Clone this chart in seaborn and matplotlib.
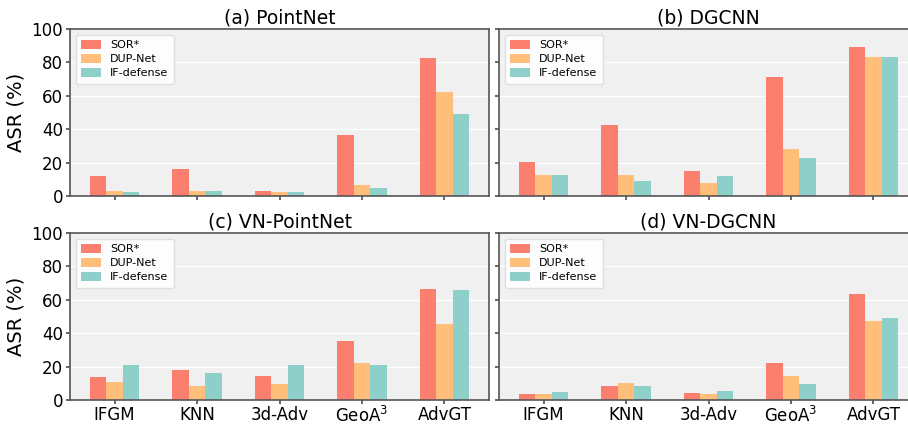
import numpy as np
import pandas as pd
import matplotlib
matplotlib.use("Agg")
import matplotlib.pyplot as plt
import seaborn as sns

attacks = ["IFGM", "KNN", "3d-Adv", "GeoA$^3$", "AdvGT"]
defenses = ["SOR*", "DUP-Net", "IF-defense"]
titles = ["(a) PointNet", "(b) DGCNN", "(c) VN-PointNet", "(d) VN-DGCNN"]

# attack success rate (%) per model, one list per defense
pointnet_sor = [11.8, 16.0, 3.2, 36.7, 82.4]
pointnet_dup = [2.8, 2.8, 2.2, 6.8, 62.1]
pointnet_if = [2.2, 3.2, 2.4, 4.6, 49.3]

dgcnn_sor = [20.2, 42.7, 15.0, 71.5, 89.2]
dgcnn_dup = [12.4, 12.4, 7.6, 28.1, 83.2]
dgcnn_if = [12.8, 9.0, 11.8, 22.6, 83.2]

vnpointnet_sor = [13.8, 17.8, 14.4, 35.2, 66.6]
vnpointnet_dup = [10.8, 8.6, 9.4, 22.0, 45.6]
vnpointnet_if = [20.8, 16.4, 20.8, 21.2, 65.6]

vndgcnn_sor = [3.4, 8.6, 4.0, 22.0, 63.4]
vndgcnn_dup = [3.8, 10.4, 3.6, 14.2, 47.4]
vndgcnn_if = [4.8, 8.6, 5.6, 9.4, 49.0]

colors = ["#FA7F6F", "#FFBE7A", "#8ECFC9"]

panels = [
    (pointnet_sor, pointnet_dup, pointnet_if),
    (dgcnn_sor, dgcnn_dup, dgcnn_if),
    (vnpointnet_sor, vnpointnet_dup, vnpointnet_if),
    (vndgcnn_sor, vndgcnn_dup, vndgcnn_if),
]

sns.set_theme(style="darkgrid", rc={
    "axes.facecolor": "#f0f0f0",
    "grid.color": "white",
    "grid.linewidth": 1.0,
    "axes.edgecolor": "#555555",
    "axes.linewidth": 1.2,
    "xtick.bottom": True,
    "ytick.left": True,
    "xtick.major.size": 3,
    "ytick.major.size": 3,
    "text.color": "black",
    "axes.labelcolor": "black",
    "xtick.color": "black",
    "ytick.color": "black",
})
plt.rcParams["font.family"] = ["DejaVu Sans"]

fig = plt.figure(figsize=(9.08, 4.24), dpi=100)
W, H = 908, 424
boxes = [
    (70, 29, 419, 167), (499, 29, 419, 167),
    (70, 233, 419, 167), (499, 233, 419, 167),
]

for i, (vals, title, (x0, y0, w, h)) in enumerate(zip(panels, titles, boxes)):
    ax = fig.add_axes([x0 / W, 1 - (y0 + h) / H, w / W, h / H])
    df = pd.DataFrame({
        "attack": attacks * 3,
        "defense": np.repeat(defenses, len(attacks)),
        "asr": list(vals[0]) + list(vals[1]) + list(vals[2]),
    })
    sns.barplot(data=df, x="attack", y="asr", hue="defense",
                palette=colors, width=0.6, ax=ax, edgecolor="none",
                saturation=1, errorbar=None)
    ax.set_xlim(-0.54, 4.54)
    ax.set_ylim(0, 100)
    ax.set_yticks([0, 20, 40, 60, 80, 100])
    ax.set_title(title, fontsize=13.5, pad=4, color="black")
    ax.set_xlabel("")
    ax.set_ylabel("")
    ax.tick_params(axis="both", labelsize=12, color="#555555",
                   labelcolor="black")
    ax.tick_params(axis="x", pad=1)
    ax.tick_params(axis="y", pad=2)
    for s in ax.spines.values():
        s.set_visible(True)
        s.set_color("#555555")
        s.set_linewidth(1.2)
    if i < 2:
        ax.set_xticklabels([])
    if i % 2 == 1:
        ax.set_yticklabels([])
    else:
        ax.set_ylabel("ASR (%)", fontsize=14, color="black")
    leg = ax.legend(loc="upper left", fontsize=8, frameon=True,
                    facecolor="white", edgecolor="#dddddd", framealpha=0.9,
                    handlelength=1.8, handleheight=0.8, borderpad=0.5,
                    labelspacing=0.35)
    leg.set_title(None)

fig.savefig("out.png", dpi=100)
